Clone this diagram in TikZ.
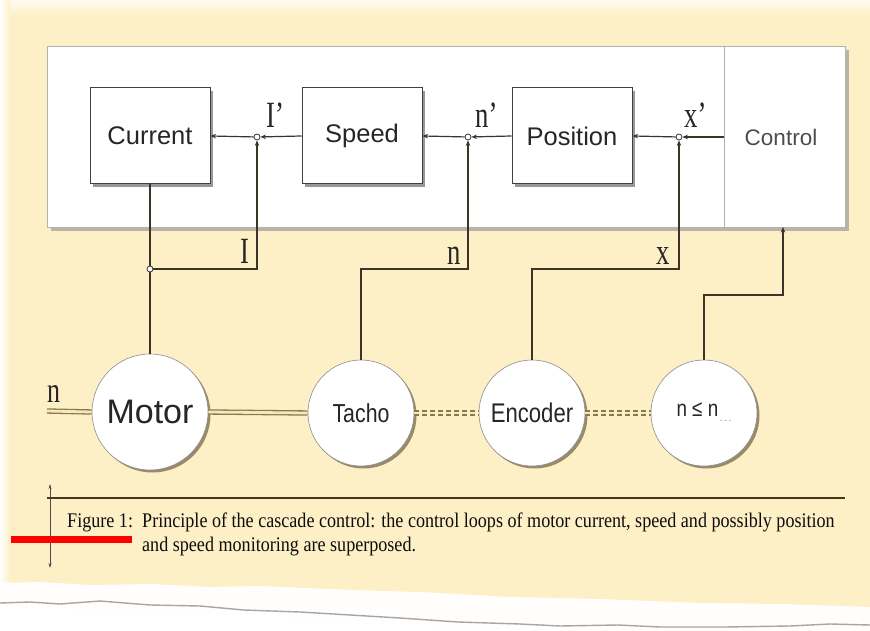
\documentclass[tikz,border=0pt]{standalone}
\usepackage{fontspec}
\setmainfont{Liberation Serif}
\setsansfont{Liberation Sans}
\newfontfamily\condsans[FakeStretch=0.82]{Liberation Sans}
\newfontfamily\capfont[FakeStretch=0.87]{Liberation Serif}
\newfontfamily\condserif[FakeStretch=0.72]{Liberation Serif}
\usetikzlibrary{arrows.meta,shadows}
\definecolor{bgy}{HTML}{FDF0C6}
\definecolor{lin}{HTML}{3A3528}
\definecolor{shaft}{HTML}{8A7A4A}
\definecolor{shaftin}{HTML}{F4E9BE}
\definecolor{txt}{HTML}{262626}
\tikzset{
  blockbox/.style={draw=black!75, line width=1pt, fill=white, minimum width=120pt, minimum height=96pt,
    font=\sffamily\fontsize{25.5}{28}\selectfont, text=txt,
    drop shadow={shadow xshift=3pt, shadow yshift=-3pt, fill=black, opacity=0.4}},
  unit/.style={circle, draw=black!45, line width=0.6pt, fill=white, text=txt,
    drop shadow={shadow xshift=2.5pt, shadow yshift=-2.5pt, fill=black!70!brown, opacity=0.5}},
  junc/.style={circle, draw=black!80, fill=white, line width=0.8pt, inner sep=0pt, minimum size=6pt},
  sig/.style={draw=lin, line width=1.2pt},
  tip/.style={-{Stealth[length=5.5pt,width=4.5pt]}},
  seriflab/.style={font=\condserif\fontsize{37}{40}\selectfont, text=black!85, inner sep=0pt, anchor=base west},
  shaftline/.style={draw=shaft, line width=1.3pt, double=shaftin, double distance=2.8pt},
  capt/.style={font=\capfont\fontsize{20.8}{24}\selectfont, anchor=base west, inner sep=0pt, text=black!95}
}
\begin{document}
\begin{tikzpicture}[x=1pt,y=-1pt]
\useasboundingbox (0,0) rectangle (870,631);
% background paper
\fill[bgy] (0,0) rectangle (870,631);
\shade[top color=white!70!bgy, bottom color=bgy] (0,0) rectangle (870,16);
\shade[left color=white, right color=bgy] (0,0) rectangle (10,631);
% torn edge
\fill[white!96!bgy] (0,583) -- (40,582) -- (90,585) -- (150,584) -- (210,587) -- (260,586) -- (351,590)
  -- (420,592) -- (511,597) -- (600,599) -- (700,603) -- (780,604) -- (870,607) -- (870,631) -- (0,631) -- cycle;
\draw[black!35, line width=1.4pt] (0,603) -- (30,602) -- (60,604) -- (100,601) -- (150,605) -- (200,606)
  -- (244,610) -- (300,612) -- (350,615) -- (400,618) -- (458,622) -- (520,624) -- (560,626) -- (618,625)
  -- (660,627) -- (725,627) -- (790,626) -- (830,624) -- (870,625);
\fill[white] (0,608) -- (60,609) -- (150,611) -- (244,615) -- (350,620) -- (458,627) -- (560,631) -- (0,631) -- cycle;

% panel
\fill[black!45, opacity=0.6] (51,50) rectangle (849,231);
\fill[white] (47,46) rectangle (845,227);
\draw[black!30, line width=0.6pt] (47,46) rectangle (845,227);
\draw[black!30, line width=0.6pt] (724,46) -- (724,227);

% blocks
\node[blockbox] (cur) at (150,136) {Current};
\node[blockbox] (spd) at (362,136) {Speed};
\node[blockbox] (pos) at (572,136) {Position};
\node[font=\sffamily\fontsize{22.5}{26}\selectfont, text=black!70] (ctl) at (781,137) {Control};
\coordinate (ctlin) at (724,137);

% junctions
\node[junc] (j1) at (257,137) {};
\node[junc] (j2) at (468,137) {};
\node[junc] (j3) at (679,137) {};
\node[seriflab] (l1) at (266,128) {I’};
\node[seriflab] (l2) at (475,128) {n’};
\node[seriflab] (l3) at (684,128) {x’};

% forward path
\draw[sig,tip] (ctlin) -- (j3);
\draw[sig,tip] (j3) -- (pos.east);
\draw[sig,tip] (pos.west) -- (j2);
\draw[sig,tip] (j2) -- (spd.east);
\draw[sig,tip] (spd.west) -- (j1);
\draw[sig,tip] (j1) -- (cur.east);

% units
\node[unit, minimum size=116pt, font=\sffamily\fontsize{34}{36}\selectfont] (motor) at (150,412) {Motor};
\node[unit, minimum size=106pt, font=\condsans\fontsize{26}{28}\selectfont] (tacho) at (361,413) {Tacho};
\node[unit, minimum size=106pt, font=\condsans\fontsize{27}{30}\selectfont] (enc) at (532,413) {Encoder};
\node[unit, minimum size=106pt, font=\condsans\fontsize{23}{26}\selectfont] (mon) at (704,413) {n ≤ n\raisebox{-7pt}{\textcolor{black!35}{\fontsize{10}{10}\selectfont \,-\,-\,-}}};

% shafts
\coordinate (shin) at (47,411);
\draw[shaftline] (shin) -- (motor.west);
\node[seriflab, font=\condserif\fontsize{36}{40}\selectfont] (nlab) at (47,402) {n};
\draw[shaftline] (motor.east) -- (tacho.west);
\draw[shaftline, dash pattern=on 5pt off 3pt] (tacho.east) -- (enc.west);
\draw[shaftline, dash pattern=on 5pt off 3pt] (enc.east) -- (mon.west);

% feedback
\node[junc] (mj) at (150,269) {};
\draw[sig] (cur.south) -- (mj);
\draw[sig] (mj) -- (motor.north);
\draw[sig,tip] (mj) -| (j1);
\node[seriflab] (fI) at (240,263) {I};
\coordinate (nc) at (468,269);
\draw[sig,tip] (tacho.north) |- (nc) -- (j2);
\node[seriflab] (fn) at (447,264) {n};
\coordinate (xc) at (679,269);
\draw[sig,tip] (enc.north) |- (xc) -- (j3);
\node[seriflab] (fx) at (656,264) {x};
\coordinate (cc) at (783,295);
\coordinate (cb) at (783,227);
\draw[sig,tip] (mon.north) |- (cc) -- (cb);

% caption
\coordinate (hl1) at (47,498);
\coordinate (hl2) at (845,498);
\draw[draw=black!60!brown, line width=1.6pt] (hl1) -- (hl2);
\coordinate (va) at (50,484);
\coordinate (vb) at (50,568);
\draw[draw=black!70, line width=1pt, {Stealth[length=5pt,width=3pt]}-{Stealth[length=5pt,width=3pt]}] (va) -- (vb);
\node[capt] (fig) at (67,527) {Figure 1:};
\node[capt] (c1) at (142,527) {Principle of the cascade control: the control loops of motor current, speed and possibly position};
\node[capt] (c2) at (142,551) {and speed monitoring are superposed.};
\fill[red] (11,536) rectangle (132,543);
\end{tikzpicture}
\end{document}
